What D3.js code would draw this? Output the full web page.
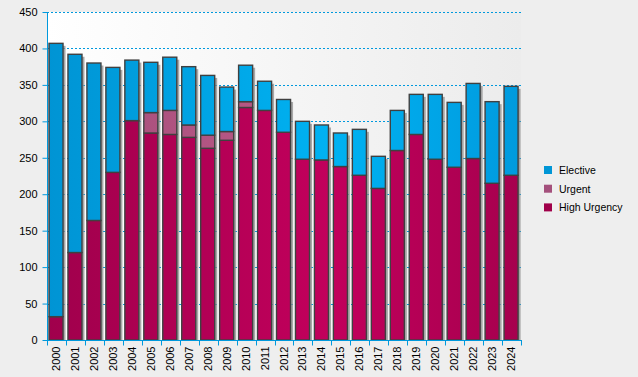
<!DOCTYPE html>
<html><head><meta charset="utf-8">
<script src="https://cdn.jsdelivr.net/npm/d3@7"></script>
<style>html,body{margin:0;padding:0;background:#eeeeee;}svg{display:block;font-family:"Liberation Sans",Arial,sans-serif;}</style>
</head><body><svg id="c" width="638" height="377"></svg>
<script>
const years = ["2000","2001","2002","2003","2004","2005","2006","2007","2008","2009","2010","2011","2012","2013","2014","2015","2016","2017","2018","2019","2020","2021","2022","2023","2024"];
const highUrgency = [32,120,164,230,301,284,282,278,263,274,319,315,285,248,247,238,226,208,260,282,248,237,249,215,226];
const urgent =      [0,0,0,0,0,28,33,17,18,12,8,0,0,0,0,0,0,0,0,0,0,0,0,0,0];
const elective =    [375,272,216,144,83,69,73,80,82,61,50,40,45,52,48,46,63,44,55,55,89,89,103,112,122];
const seriesNames = ["High Urgency","Urgent","Elective"];
const yTicks = [0,50,100,150,200,250,300,350,400,450];
const legendItems = ["Elective","Urgent","High Urgency"];

const svg = d3.select("#c");
const m = {l:47, r:521, t:12, b:340};
const x = d3.scaleBand().domain(years).range([m.l, m.r]).padding(0);
const y = d3.scaleLinear().domain([0,450]).range([m.b, m.t]);
const axisColor = "#0099dd";

const defs = svg.append("defs");
const bg = defs.append("linearGradient").attr("id","bg").attr("x1","0").attr("x2","1").attr("y1","0").attr("y2","0");
bg.append("stop").attr("offset","0").attr("stop-color","#ffffff");
bg.append("stop").attr("offset","1").attr("stop-color","#ececec");

function grad(id, edge, mid, end){
  const g = defs.append("linearGradient").attr("id",id).attr("gradientUnits","userSpaceOnUse")
    .attr("x1",m.l).attr("x2",m.r).attr("y1",0).attr("y2",0);
  g.append("stop").attr("offset","0").attr("stop-color",edge);
  g.append("stop").attr("offset","0.6").attr("stop-color",mid);
  g.append("stop").attr("offset","1").attr("stop-color",end);
}
grad("gE","#0094d4","#00b2f2","#009ade");
grad("gU","#a44e7a","#bc5a88","#a44e7a");
grad("gH","#a0004c","#c2005c","#a6004e");
const fills = {"High Urgency":"url(#gH)","Urgent":"url(#gU)","Elective":"url(#gE)"};
const legendColors = {"Elective":"#0096d6","Urgent":"#a4507c","High Urgency":"#a0004a"};

svg.append("rect").attr("x",m.l).attr("y",m.t).attr("width",m.r-m.l).attr("height",m.b-m.t).attr("fill","url(#bg)");

// gridlines
svg.append("g").selectAll("line").data(yTicks.filter(d=>d>0)).join("line")
  .attr("x1",m.l).attr("x2",m.r).attr("y1",d=>Math.round(y(d))+0.5).attr("y2",d=>Math.round(y(d))+0.5)
  .attr("stroke",axisColor).attr("stroke-width",1).attr("stroke-dasharray","2,2");

const data = years.map((yr,i)=>({year:yr, "High Urgency":highUrgency[i], "Urgent":urgent[i], "Elective":elective[i]}));
const stack = d3.stack().keys(seriesNames)(data);

const bw = x.bandwidth()*0.74;
const off = 2;
const totals = data.map(d=>d["High Urgency"]+d["Urgent"]+d["Elective"]);

// shadows
svg.append("g").selectAll("rect").data(data).join("rect")
  .attr("x",(d)=>x(d.year)+off+2.5).attr("y",(d,i)=>y(totals[i])+2.5)
  .attr("width",bw).attr("height",(d,i)=>y(0)-y(totals[i])-2.5)
  .attr("fill","#8c8c8c").attr("opacity",0.75);

// bars
stack.forEach(s=>{
  svg.append("g").selectAll("rect").data(s.filter(d=>d[1]-d[0]>0)).join("rect")
    .attr("x",d=>x(d.data.year)+off).attr("y",d=>y(d[1]))
    .attr("width",bw).attr("height",d=>y(d[0])-y(d[1]))
    .attr("fill",fills[s.key]).attr("stroke","#404040").attr("stroke-width",1.4);
});

// y axis
const ya = svg.append("g").attr("transform",`translate(${m.l+0.5},0)`)
  .call(d3.axisLeft(y).tickValues(yTicks).tickSize(5).tickPadding(5));
ya.select(".domain").attr("stroke",axisColor).attr("d",`M0,${m.t}V${m.b}`);
ya.selectAll(".tick line").attr("stroke",axisColor);
ya.selectAll(".tick text").attr("fill","#000").style("font-size","11px").style("font-family","'Liberation Sans',Arial,sans-serif");

// x axis
const xa = svg.append("g").attr("transform",`translate(0,${m.b+0.5})`);
xa.append("line").attr("x1",m.l).attr("x2",m.r+1).attr("stroke",axisColor);
xa.selectAll("line.t").data(years.concat(["end"])).join("line").attr("class","t")
  .attr("x1",(d,i)=>Math.round(m.l+i*x.step())+0.5).attr("x2",(d,i)=>Math.round(m.l+i*x.step())+0.5)
  .attr("y1",0).attr("y2",5).attr("stroke",axisColor);
xa.selectAll("text").data(years).join("text")
  .attr("transform",d=>`translate(${x(d)+off+bw/2+4},6) rotate(-90)`)
  .attr("text-anchor","end").style("font-size","11px").attr("fill","#000").text(d=>d);

// legend
const lg = svg.append("g").attr("transform","translate(544,166)");
legendItems.forEach((k,i)=>{
  const g = lg.append("g").attr("transform",`translate(0,${i*18.7})`);
  g.append("rect").attr("width",8).attr("height",8).attr("fill",legendColors[k]);
  g.append("text").attr("x",15).attr("y",8).style("font-size","10.5px").attr("fill","#000").text(k);
});
</script></body></html>
